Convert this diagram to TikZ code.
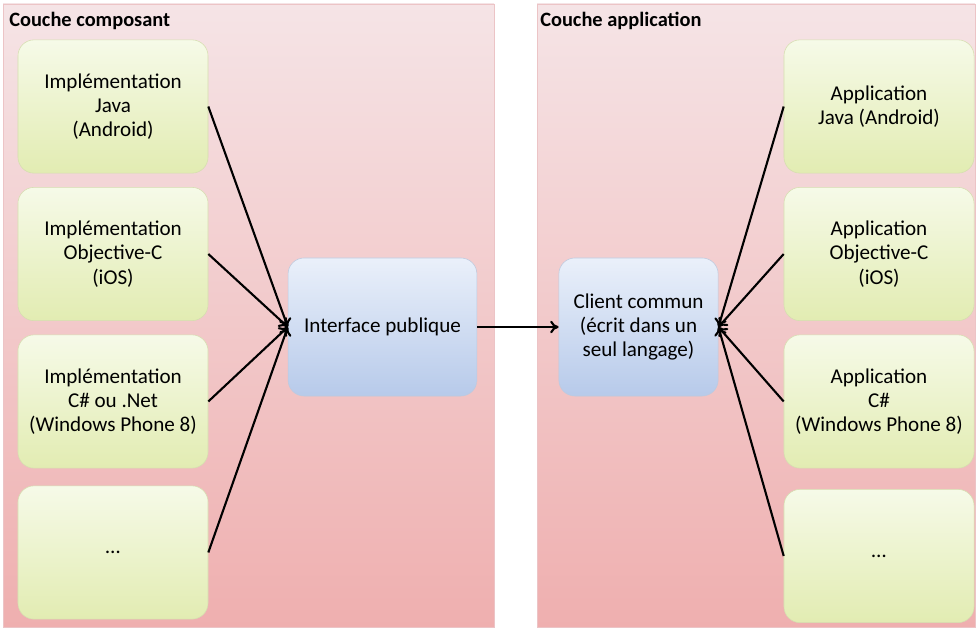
\documentclass[tikz,border=0pt]{standalone}
\usepackage{fontspec}
\setmainfont{Carlito}
\usetikzlibrary{arrows.meta}
\definecolor{layertop}{RGB}{245,228,230}
\definecolor{layerbot}{RGB}{239,175,175}
\definecolor{layerline}{RGB}{236,196,198}
\definecolor{impltop}{RGB}{246,250,232}
\definecolor{implbot}{RGB}{226,236,178}
\definecolor{impline}{RGB}{214,222,176}
\definecolor{ifacetop}{RGB}{234,240,250}
\definecolor{ifacebot}{RGB}{183,202,234}
\definecolor{ifaceline}{RGB}{190,202,222}
\tikzset{
  layer/.style={draw=layerline, top color=layertop, bottom color=layerbot},
  layertitle/.style={anchor=north west, inner sep=0pt, font=\fontsize{14.5}{17}\selectfont\bfseries},
  implbox/.style={draw=impline, rounded corners=0.4cm, top color=impltop, bottom color=implbot,
    minimum width=4.75cm, minimum height=3.33cm, align=center, font=\fontsize{15}{17.2}\selectfont},
  ifacebox/.style={draw=ifaceline, rounded corners=0.4cm, top color=ifacetop, bottom color=ifacebot,
    minimum height=3.45cm, align=center, font=\fontsize{15}{17.2}\selectfont},
  link/.style={line width=1.5pt, -{To[length=6pt,width=9pt]}}
}
\begin{document}
\begin{tikzpicture}[x=0.025cm, y=-0.025cm]
	\useasboundingbox (0,0) rectangle (978,630);
	% Layers
	\draw [layer] (3,4) rectangle (494,627);
	\draw [layer] (537,4) rectangle (975,627);
	\node [layertitle] (compTitle) at (9,12) {Couche composant};
	\node [layertitle] (appTitle) at (540,12) {Couche application};
	% Implementations
	\node [implbox] (implJava) at (113,106.5) {Implémentation\\Java\\(Android)};
	\node [implbox] (implObjc) at (113,254) {Implémentation\\Objective-C\\(iOS)};
	\node [implbox] (implNet) at (113,401.5) {Implémentation\\C\# ou .Net\\(Windows Phone 8)};
	\node [implbox] (implMore) at (113,552.5) {…};
	% Applications
	\node [implbox] (appJava) at (879,106.5) {Application\\Java (Android)};
	\node [implbox] (appObjc) at (879,254) {Application\\Objective-C\\(iOS)};
	\node [implbox] (appNet) at (879,401.5) {Application\\C\#\\(Windows Phone 8)};
	\node [implbox] (appMore) at (879,556) {…};
	% Interface and client
	\node [ifacebox, minimum width=4.72cm] (iface) at (382.5,327) {Interface publique};
	\node [ifacebox, minimum width=3.98cm] (client) at (638.5,327) {Client commun\\(écrit dans un\\seul langage)};
	% Links
	\foreach \src in {implJava,implObjc,implNet,implMore}
		\draw [link] (\src.east) -- (iface.west);
	\foreach \src in {appJava,appObjc,appNet,appMore}
		\draw [link] (\src.west) -- (client.east);
	\draw [link] (iface.east) -- (client.west);
\end{tikzpicture}
\end{document}
